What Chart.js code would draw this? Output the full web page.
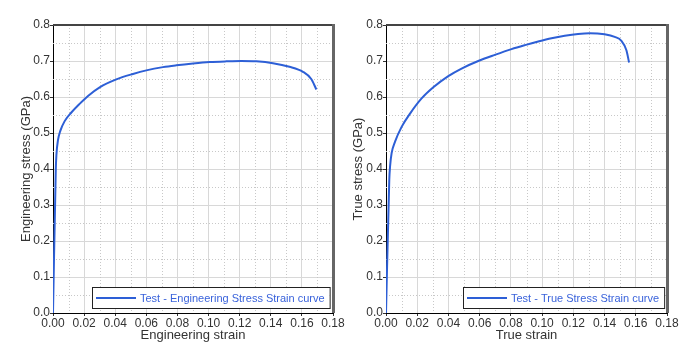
<!DOCTYPE html>
<html><head><meta charset="utf-8">
<script src="https://cdn.jsdelivr.net/npm/chart.js@4.4.1/dist/chart.umd.min.js"></script>
<style>
html,body{margin:0;padding:0;background:#fff;}
#wrap{position:relative;width:695px;height:355px;overflow:hidden;}
canvas{position:absolute;top:0;}
</style></head><body>
<div id="wrap">
<canvas id="c1" width="347" height="355" style="left:0"></canvas>
<canvas id="c2" width="348" height="355" style="left:347px"></canvas>
</div>
<script>
// ---- data ----
const engStrain = [0, 0.0018, 0.0022, 0.0032, 0.0047, 0.0075, 0.0118, 0.0171, 0.0225, 0.030, 0.0407, 0.0514, 0.060, 0.0707, 0.0793, 0.090, 0.1007, 0.1114, 0.121, 0.1307, 0.1414, 0.152, 0.1607, 0.166, 0.1693];
const engStress = [0, 0.40, 0.44, 0.48, 0.506, 0.533, 0.557, 0.581, 0.603, 0.627, 0.649, 0.664, 0.674, 0.683, 0.688, 0.693, 0.697, 0.699, 0.700, 0.699, 0.694, 0.684, 0.670, 0.650, 0.621];
const trueStrain = [0, 0.0021, 0.0026, 0.0036, 0.0058, 0.010, 0.0154, 0.0228, 0.0303, 0.0399, 0.0484, 0.0591, 0.0697, 0.0804, 0.089, 0.0975, 0.106, 0.1145, 0.123, 0.1305, 0.140, 0.1465, 0.1508, 0.154, 0.1557];
const trueStress = [0, 0.37, 0.407, 0.444, 0.476, 0.517, 0.554, 0.596, 0.627, 0.658, 0.679, 0.700, 0.717, 0.733, 0.744, 0.754, 0.763, 0.770, 0.775, 0.777, 0.774, 0.767, 0.756, 0.730, 0.696];
const xTickStep = 0.02, xMin = 0, xMax = 0.18;
const yTickStep = 0.1, yMin = 0, yMax = 0.8;
const engLabel = 'Test - Engineering Stress Strain curve';
const trueLabel = 'Test - True Stress Strain curve';

Chart.defaults.font.family = "'Liberation Sans', Arial, sans-serif";
Chart.defaults.color = '#333';

const LINE = '#2d5fd6';

const decor = {
  id: 'decor',
  beforeDatasetsDraw(chart) {
    const {ctx, chartArea: a, scales: {x, y}} = chart;
    ctx.save();
    ctx.strokeStyle = '#c8c8c8';
    ctx.lineWidth = 1;
    ctx.setLineDash([1, 2]);
    const xt = x.ticks, yt = y.ticks;
    for (let i = 0; i < xt.length - 1; i++) {
      const p = Math.round(x.getPixelForValue((xt[i].value + xt[i + 1].value) / 2)) + 0.5;
      ctx.beginPath(); ctx.moveTo(p, a.top); ctx.lineTo(p, a.bottom); ctx.stroke();
    }
    for (let i = 0; i < yt.length - 1; i++) {
      const p = Math.round(y.getPixelForValue((yt[i].value + yt[i + 1].value) / 2)) + 0.5;
      ctx.beginPath(); ctx.moveTo(a.left, p); ctx.lineTo(a.right, p); ctx.stroke();
    }
    ctx.restore();
  },
  afterDraw(chart) {
    const {ctx, chartArea: a} = chart;
    ctx.save();
    // frame top / right
    ctx.fillStyle = '#444';
    ctx.fillRect(a.left, a.top - 1, a.right - a.left + 1, 2);
    ctx.fillStyle = '#666';
    ctx.fillRect(a.right - 1, a.top - 1, 3, a.bottom - a.top + 1);
    // legend box
    const ds = chart.data.datasets[0];
    ctx.font = "11px 'Liberation Sans', Arial, sans-serif";
    const tw = ctx.measureText(ds.label).width;
    const h = 21, w = 4 + 40 + 4 + tw + 5;
    const bx = Math.round(a.right - 3 - w), by = Math.round(a.bottom - 5 - h);
    ctx.fillStyle = '#fff';
    ctx.fillRect(bx, by, w, h);
    ctx.strokeStyle = '#222';
    ctx.lineWidth = 1;
    ctx.strokeRect(bx + 0.5, by + 0.5, w, h);
    const cy = by + h / 2 + 0.5;
    ctx.strokeStyle = ds.borderColor;
    ctx.lineWidth = 2;
    ctx.beginPath(); ctx.moveTo(bx + 4, cy); ctx.lineTo(bx + 44, cy); ctx.stroke();
    ctx.fillStyle = '#3a63db';
    ctx.textBaseline = 'middle';
    ctx.textAlign = 'left';
    ctx.fillText(ds.label, bx + 48, cy + 0.5);
    ctx.restore();
  }
};

function makeChart(id, xs, ys, label, xTitle, yTitle, yW, yTitlePad, padRight) {
  return new Chart(document.getElementById(id), {
    type: 'line',
    data: {
      datasets: [{
        label: label,
        data: xs.map((v, i) => ({x: v, y: ys[i]})),
        borderColor: LINE,
        borderWidth: 2,
        pointRadius: 0,
        cubicInterpolationMode: 'monotone',
        fill: false
      }]
    },
    options: {
      responsive: false,
      animation: false,
      layout: {padding: {top: 25, right: padRight, left: 0, bottom: 0}},
      plugins: {legend: {display: false}, tooltip: {enabled: false}},
      scales: {
        x: {
          type: 'linear', min: xMin, max: xMax,
          ticks: {stepSize: xTickStep, padding: 0, color: '#333', font: {size: 12},
            maxRotation: 0, autoSkip: false, callback: v => v.toFixed(2)},
          grid: {color: '#d8d8d8', lineWidth: 1, tickLength: 3, tickColor: '#333'},
          border: {color: '#000', width: 1},
          title: {display: true, text: xTitle, color: '#333', font: {size: 13}, padding: {top: 0, bottom: 12}},
          afterFit: s => { s.height = 42; }
        },
        y: {
          type: 'linear', min: yMin, max: yMax,
          ticks: {stepSize: yTickStep, padding: 0, color: '#333', font: {size: 12},
            autoSkip: false, callback: v => v.toFixed(1)},
          grid: {color: '#d8d8d8', lineWidth: 1, tickLength: 3, tickColor: '#333'},
          border: {color: '#000', width: 1},
          title: {display: true, text: yTitle, color: '#333', font: {size: 13}, padding: {top: yTitlePad, bottom: 0}},
          afterFit: s => { s.width = yW; }
        }
      }
    },
    plugins: [decor]
  });
}

makeChart('c1', engStrain, engStress, engLabel, 'Engineering strain', 'Engineering stress (GPa)', 53, 19, 14);
makeChart('c2', trueStrain, trueStress, trueLabel, 'True strain', 'True stress (GPa)', 39, 4, 28);
</script>
</body></html>
